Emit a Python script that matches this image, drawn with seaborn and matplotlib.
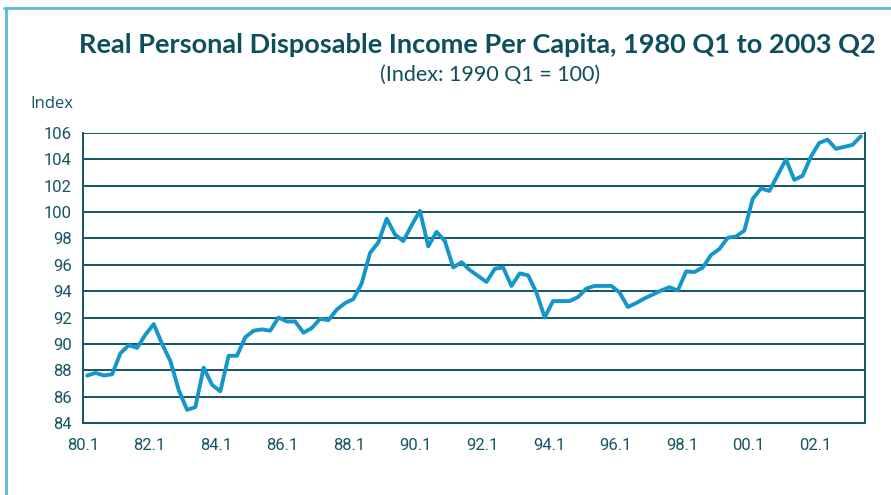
import numpy as np
import pandas as pd
import seaborn as sns
import matplotlib.pyplot as plt
from matplotlib.lines import Line2D

# quarterly index, 1980 Q1 .. 2003 Q2 (1990 Q1 = 100)
valores = [87.6, 87.8, 87.6, 87.7, 89.3, 89.9, 89.7, 90.7, 91.5, 90.0,
           88.7, 86.5, 85.0, 85.2, 88.2, 86.9, 86.4, 89.1, 89.1, 90.5,
           91.0, 91.1, 91.0, 92.0, 91.7, 91.7, 90.85, 91.2, 91.9, 91.8,
           92.6, 93.1, 93.4, 94.6, 96.9, 97.7, 99.5, 98.3, 97.8, 99.0,
           100.1, 97.4, 98.5, 97.8, 95.8, 96.2, 95.6, 95.15, 94.7, 95.7,
           95.8, 94.4, 95.35, 95.2, 93.9, 92.0, 93.25, 93.25, 93.25, 93.55,
           94.2, 94.4, 94.4, 94.4, 93.9, 92.8, 93.1, 93.45, 93.75, 94.05,
           94.3, 94.05, 95.5, 95.45, 95.8, 96.75, 97.2, 98.05, 98.15, 98.6,
           101.0, 101.8, 101.6, 102.8, 104.0, 102.45, 102.75, 104.2, 105.25, 105.5,
           104.8, 104.95, 105.1, 105.75]
etiquetas_x = ["80.1", "82.1", "84.1", "86.1", "88.1", "90.1", "92.1",
               "94.1", "96.1", "98.1", "00.1", "02.1"]
ticks_y = [84, 86, 88, 90, 92, 94, 96, 98, 100, 102, 104, 106]

df = pd.DataFrame({"trimestre": np.arange(len(valores)) + 0.5, "indice": valores})

sns.set_style("white")
plt.rcParams['font.family'] = ['Roboto', 'DejaVu Sans']

oscuro = "#145562"
azul = "#1496cc"

fig = plt.figure(figsize=(8.91, 4.95), dpi=100)
ax = fig.add_axes([0.0932, 0.1455, 0.8776, 0.5858])

for v in ticks_y:
    ax.axhline(v, color=oscuro, lw=1.4, zorder=1)

sns.lineplot(data=df, x="trimestre", y="indice", color=azul, lw=2.8, ax=ax, zorder=3)

ax.set_xlim(0, len(valores))
ax.set_ylim(84, 106)
ax.set_xticks(np.arange(len(etiquetas_x)) * 8)
ax.set_xticklabels(etiquetas_x)
ax.set_yticks(ticks_y)
ax.set_xlabel("")
ax.set_ylabel("")
ax.tick_params(axis="both", direction="out", length=5, width=1.4, color=oscuro,
               labelcolor=oscuro, labelsize=12)
ax.tick_params(axis="x", pad=6)
ax.tick_params(axis="y", pad=3)
for lado in ["left", "bottom", "right"]:
    ax.spines[lado].set_color(oscuro)
    ax.spines[lado].set_linewidth(1.4)
ax.spines["top"].set_visible(False)

fig.text(0.536, 0.909, "Real Personal Disposable Income Per Capita, 1980 Q1 to 2003 Q2",
         ha="center", va="center", fontsize=19.5, fontweight="bold", color="#0d4f5c",
         family=["Lato", "DejaVu Sans"])
fig.text(0.55, 0.848, "(Index: 1990 Q1 = 100)", ha="center", va="center",
         fontsize=15.5, color="#0d4f5c", family=["Lato", "DejaVu Sans"])
fig.text(0.034, 0.79, "Index", ha="left", va="center", fontsize=12, color=oscuro,
         family=["Open Sans", "DejaVu Sans"])

# marco azul claro arriba y a la izquierda
borde = "#5ab8de"
fig.add_artist(Line2D([0.005, 1.0], [0.984, 0.984], color=borde, lw=2, transform=fig.transFigure))
fig.add_artist(Line2D([0.007, 0.007], [0.0, 0.984], color=borde, lw=2, transform=fig.transFigure))

fig.savefig("out.png", dpi=100)
